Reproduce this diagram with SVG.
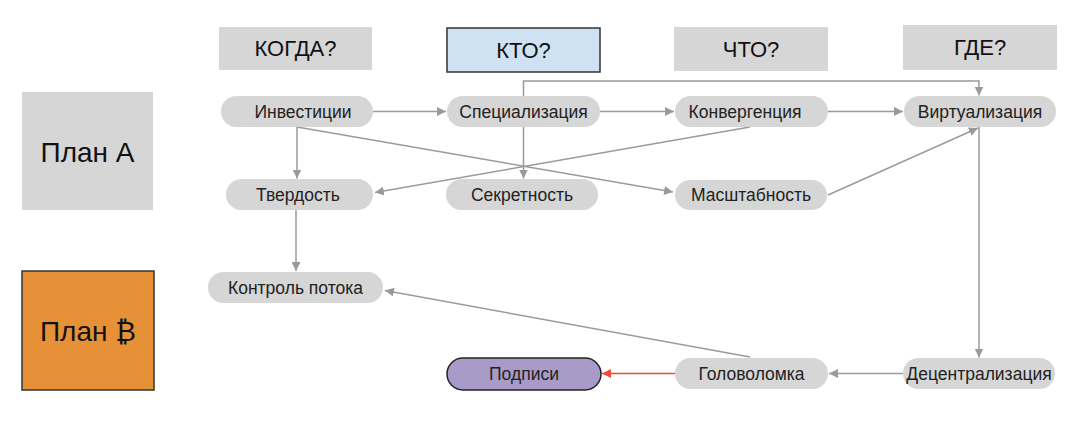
<svg xmlns="http://www.w3.org/2000/svg" width="1085" height="436" viewBox="0 0 1085 436">
<style>
.hdr{fill:#d6d6d6}
.pill{fill:#d6d6d6}
.t{font-family:"Liberation Sans","Noto Sans","DejaVu Sans",sans-serif;font-size:17.5px;fill:#222;text-anchor:middle;dominant-baseline:central}
.th{font-family:"Liberation Sans","Noto Sans","DejaVu Sans",sans-serif;font-size:22px;fill:#111;text-anchor:middle;dominant-baseline:central}
.tp{font-family:"Liberation Sans","Noto Sans","DejaVu Sans",sans-serif;font-size:28px;fill:#111;text-anchor:middle;dominant-baseline:central}
.c{fill:none;stroke:#9a9a9a;stroke-width:1.5}
.cr{fill:none;stroke:#f04a3e;stroke-width:1.5}
</style>
<defs>
<marker id="a" viewBox="0 0 10 10" refX="10" refY="5" markerWidth="9" markerHeight="9" markerUnits="userSpaceOnUse" orient="auto">
<path d="M0,0 L10,5 L0,10 z" fill="#9a9a9a"/>
</marker>
<marker id="ar" viewBox="0 0 10 10" refX="10" refY="5" markerWidth="9" markerHeight="9" markerUnits="userSpaceOnUse" orient="auto">
<path d="M0,0 L10,5 L0,10 z" fill="#f04a3e"/>
</marker>
</defs>
<rect width="1085" height="436" fill="#fff"/>

<g id="hdr-when"><rect class="hdr" x="219" y="27" width="153" height="43"/><text class="th" x="295.5" y="48.5">КОГДА?</text></g>
<g id="hdr-who"><rect x="447" y="28" width="153" height="44" fill="#cfe2f3" stroke="#333" stroke-width="1.5"/><text class="th" x="523.5" y="50">КТО?</text></g>
<g id="hdr-what"><rect class="hdr" x="674" y="27" width="154" height="44"/><text class="th" x="751" y="49">ЧТО?</text></g>
<g id="hdr-where"><rect class="hdr" x="903" y="25" width="154" height="45"/><text class="th" x="980" y="47.5">ГДЕ?</text></g>

<g id="plan-a"><rect class="hdr" x="22" y="92" width="131" height="118"/><text class="tp" x="87.5" y="152">План А</text></g>
<g id="plan-b"><rect x="22" y="271" width="132" height="119" fill="#e69138" stroke="#333" stroke-width="1.5"/><text class="tp" x="88" y="331">План ₿</text></g>

<g id="connectors">
<line class="c" x1="373" y1="111.5" x2="446" y2="111.5" marker-end="url(#a)"/>
<line class="c" x1="600" y1="111.5" x2="674" y2="111.5" marker-end="url(#a)"/>
<line class="c" x1="828" y1="111.5" x2="903" y2="111.5" marker-end="url(#a)"/>
<path class="c" d="M523.5,96 V81 H979 V95.5" marker-end="url(#a)"/>
<line class="c" x1="523.5" y1="127" x2="523.5" y2="178.5" marker-end="url(#a)"/>
<line class="c" x1="297" y1="127" x2="297" y2="178.5" marker-end="url(#a)"/>
<line class="c" x1="297" y1="127" x2="673" y2="192" marker-end="url(#a)"/>
<line class="c" x1="750" y1="127" x2="375" y2="192.5" marker-end="url(#a)"/>
<line class="c" x1="828" y1="195" x2="978" y2="128" marker-end="url(#a)"/>
<line class="c" x1="979" y1="127" x2="979" y2="357.5" marker-end="url(#a)"/>
<line class="c" x1="296" y1="210" x2="296" y2="271" marker-end="url(#a)"/>
<line class="c" x1="750" y1="357" x2="385" y2="290.5" marker-end="url(#a)"/>
<line class="c" x1="903" y1="373.5" x2="829" y2="373.5" marker-end="url(#a)"/>
<line class="cr" x1="675" y1="373.5" x2="602" y2="373.5" marker-end="url(#ar)"/>
</g>

<g id="n-invest"><rect class="pill" x="221" y="96" width="152" height="31" rx="15.5"/><text class="t" x="303" y="111.5">Инвестиции</text></g>
<g id="n-spec"><rect class="pill" x="447" y="96" width="153" height="31" rx="15.5"/><text class="t" x="523.5" y="111.5">Специализация</text></g>
<g id="n-conv"><rect class="pill" x="675" y="96" width="153" height="31" rx="15.5"/><text class="t" x="745" y="111.5">Конвергенция</text></g>
<g id="n-virt"><rect class="pill" x="904" y="96" width="152" height="31" rx="15.5"/><text class="t" x="980" y="111.5">Виртуализация</text></g>
<g id="n-hard"><rect class="pill" x="226" y="179" width="147" height="31" rx="15.5"/><text class="t" x="298" y="194.5">Твердость</text></g>
<g id="n-secret"><rect class="pill" x="446" y="179" width="152" height="31" rx="15.5"/><text class="t" x="522" y="194.5">Секретность</text></g>
<g id="n-scale"><rect class="pill" x="675" y="180" width="152" height="30" rx="15"/><text class="t" x="751" y="195">Масштабность</text></g>
<g id="n-flow"><rect class="pill" x="208" y="272" width="175" height="31" rx="15.5"/><text class="t" x="295.5" y="287.5">Контроль потока</text></g>
<g id="n-sign"><rect x="447" y="358" width="154" height="32" rx="16" fill="#a99bc8" stroke="#222" stroke-width="1.5"/><text class="t" x="524" y="374">Подписи</text></g>
<g id="n-puzzle"><rect class="pill" x="675" y="358" width="153" height="31" rx="15.5"/><text class="t" x="751.5" y="373.5">Головоломка</text></g>
<g id="n-decent"><rect class="pill" x="903" y="358" width="152" height="31" rx="15.5"/><text class="t" x="979" y="373.5">Децентрализация</text></g>
</svg>
